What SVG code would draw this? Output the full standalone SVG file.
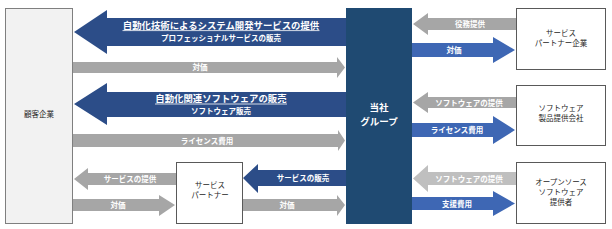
<svg xmlns="http://www.w3.org/2000/svg" width="612" height="229" viewBox="0 0 612 229">
<style>
.box{fill:#fff;stroke:#595959;stroke-width:1}
.cust{fill:#f2f2f2;stroke:#7f7f7f;stroke-width:1}
.core{fill:#1f4a72}
.dk{fill:#2c4d88}
.bl{fill:#3e67b4}
.gr{fill:#a6a6a6}
.lg{fill:#bfbfbf}
.ul{stroke:#fff;stroke-width:0.8}
text{font-family:"Noto Sans CJK JP","Noto Sans",sans-serif;text-anchor:middle}
.nt{font-size:7.5px;fill:#262626}
.wl{font-size:7.5px;fill:#fff;font-weight:bold}
.big{font-size:9.4px;fill:#fff;font-weight:bold}
.ct{font-size:9.5px;fill:#fff;font-weight:bold}
</style>
<g id="connectors">
  <polygon class="dk" points="346,18 107,18 107,10 74,32 107,54 107,46 346,46"/>
  <text class="big" x="221" y="28.5">自動化技術によるシステム開発サービスの提供</text>
  <line class="ul" x1="122.5" y1="30.6" x2="319.5" y2="30.6"/>
  <text class="wl" x="221" y="40.5">プロフェッショナルサービスの販売</text>
  <polygon class="gr" points="73,62 337,62 337,57 345,67.5 337,78 337,73 73,73"/>
  <text class="wl" x="200" y="70">対価</text>
  <polygon class="dk" points="346,92 107,92 107,83 74,104 107,125 107,117 346,117"/>
  <text class="big" x="221" y="102">自動化関連ソフトウェアの販売</text>
  <line class="ul" x1="155" y1="104" x2="287" y2="104"/>
  <text class="wl" x="221" y="113.5">ソフトウェア販売</text>
  <polygon class="gr" points="73,134 338,134 338,130 345,140.5 338,151 338,147 73,147"/>
  <text class="wl" x="207" y="143.5">ライセンス費用</text>
  <polygon class="gr" points="176,173 88,173 88,168 74,179 88,190 88,185 176,185"/>
  <text class="wl" x="130" y="182">サービスの提供</text>
  <polygon class="gr" points="73,199 159,199 159,195 175,205 159,216 159,211 73,211"/>
  <text class="wl" x="118" y="208">対価</text>
  <polygon class="dk" points="346,170 258,170 258,164 243,178 258,193 258,186 346,186"/>
  <text class="wl" x="303" y="181">サービスの販売</text>
  <polygon class="gr" points="243,199 337,199 337,195 345,205 337,216 337,211 243,211"/>
  <text class="wl" x="287" y="208">対価</text>
  <polygon class="gr" points="516,18 428,18 428,13 413,24 428,35 428,30 516,30"/>
  <text class="wl" x="470" y="27">役務提供</text>
  <polygon class="bl" points="412,43 493,43 493,37 515,50 493,63 493,57 412,57"/>
  <text class="wl" x="454" y="53">対価</text>
  <polygon class="gr" points="516,97 428,97 428,92 413,102.5 428,113 428,108 516,108"/>
  <text class="wl" x="469" y="105.5">ソフトウェアの提供</text>
  <polygon class="bl" points="412,123 493,123 493,116 515,130 493,144 493,137 412,137"/>
  <text class="wl" x="457" y="133">ライセンス費用</text>
  <polygon class="lg" points="516,172 428,172 428,165 413,178.5 428,192 428,185 516,185"/>
  <text class="wl" x="469" y="181.5">ソフトウェアの提供</text>
  <polygon class="bl" points="412,197 493,197 493,191 515,203.5 493,216 493,210 412,210"/>
  <text class="wl" x="457" y="206.5">支援費用</text>
</g>
<g id="customer">
  <rect class="cust" x="5.5" y="8.5" width="67" height="215"/>
  <text class="nt" x="39" y="117">顧客企業</text>
</g>
<g id="group">
  <rect class="core" x="346" y="8" width="66" height="216"/>
  <text class="ct" x="379" y="111">当社</text>
  <text class="ct" x="379" y="125">グループ</text>
</g>
<g id="service-partner-company">
  <rect class="box" x="516.5" y="8.5" width="89" height="61"/>
  <text class="nt" x="561" y="36">サービス</text>
  <text class="nt" x="561" y="46">パートナー企業</text>
</g>
<g id="software-vendor">
  <rect class="box" x="516.5" y="85.5" width="89" height="60"/>
  <text class="nt" x="561" y="111">ソフトウェア</text>
  <text class="nt" x="561" y="121">製品提供会社</text>
</g>
<g id="oss-provider">
  <rect class="box" x="516.5" y="162.5" width="89" height="61"/>
  <text class="nt" x="561" y="185">オープンソース</text>
  <text class="nt" x="561" y="195">ソフトウェア</text>
  <text class="nt" x="561" y="205">提供者</text>
</g>
<g id="service-partner">
  <rect class="box" x="176.5" y="162.5" width="66" height="61"/>
  <text class="nt" x="210" y="188">サービス</text>
  <text class="nt" x="210" y="198">パートナー</text>
</g>
</svg>
